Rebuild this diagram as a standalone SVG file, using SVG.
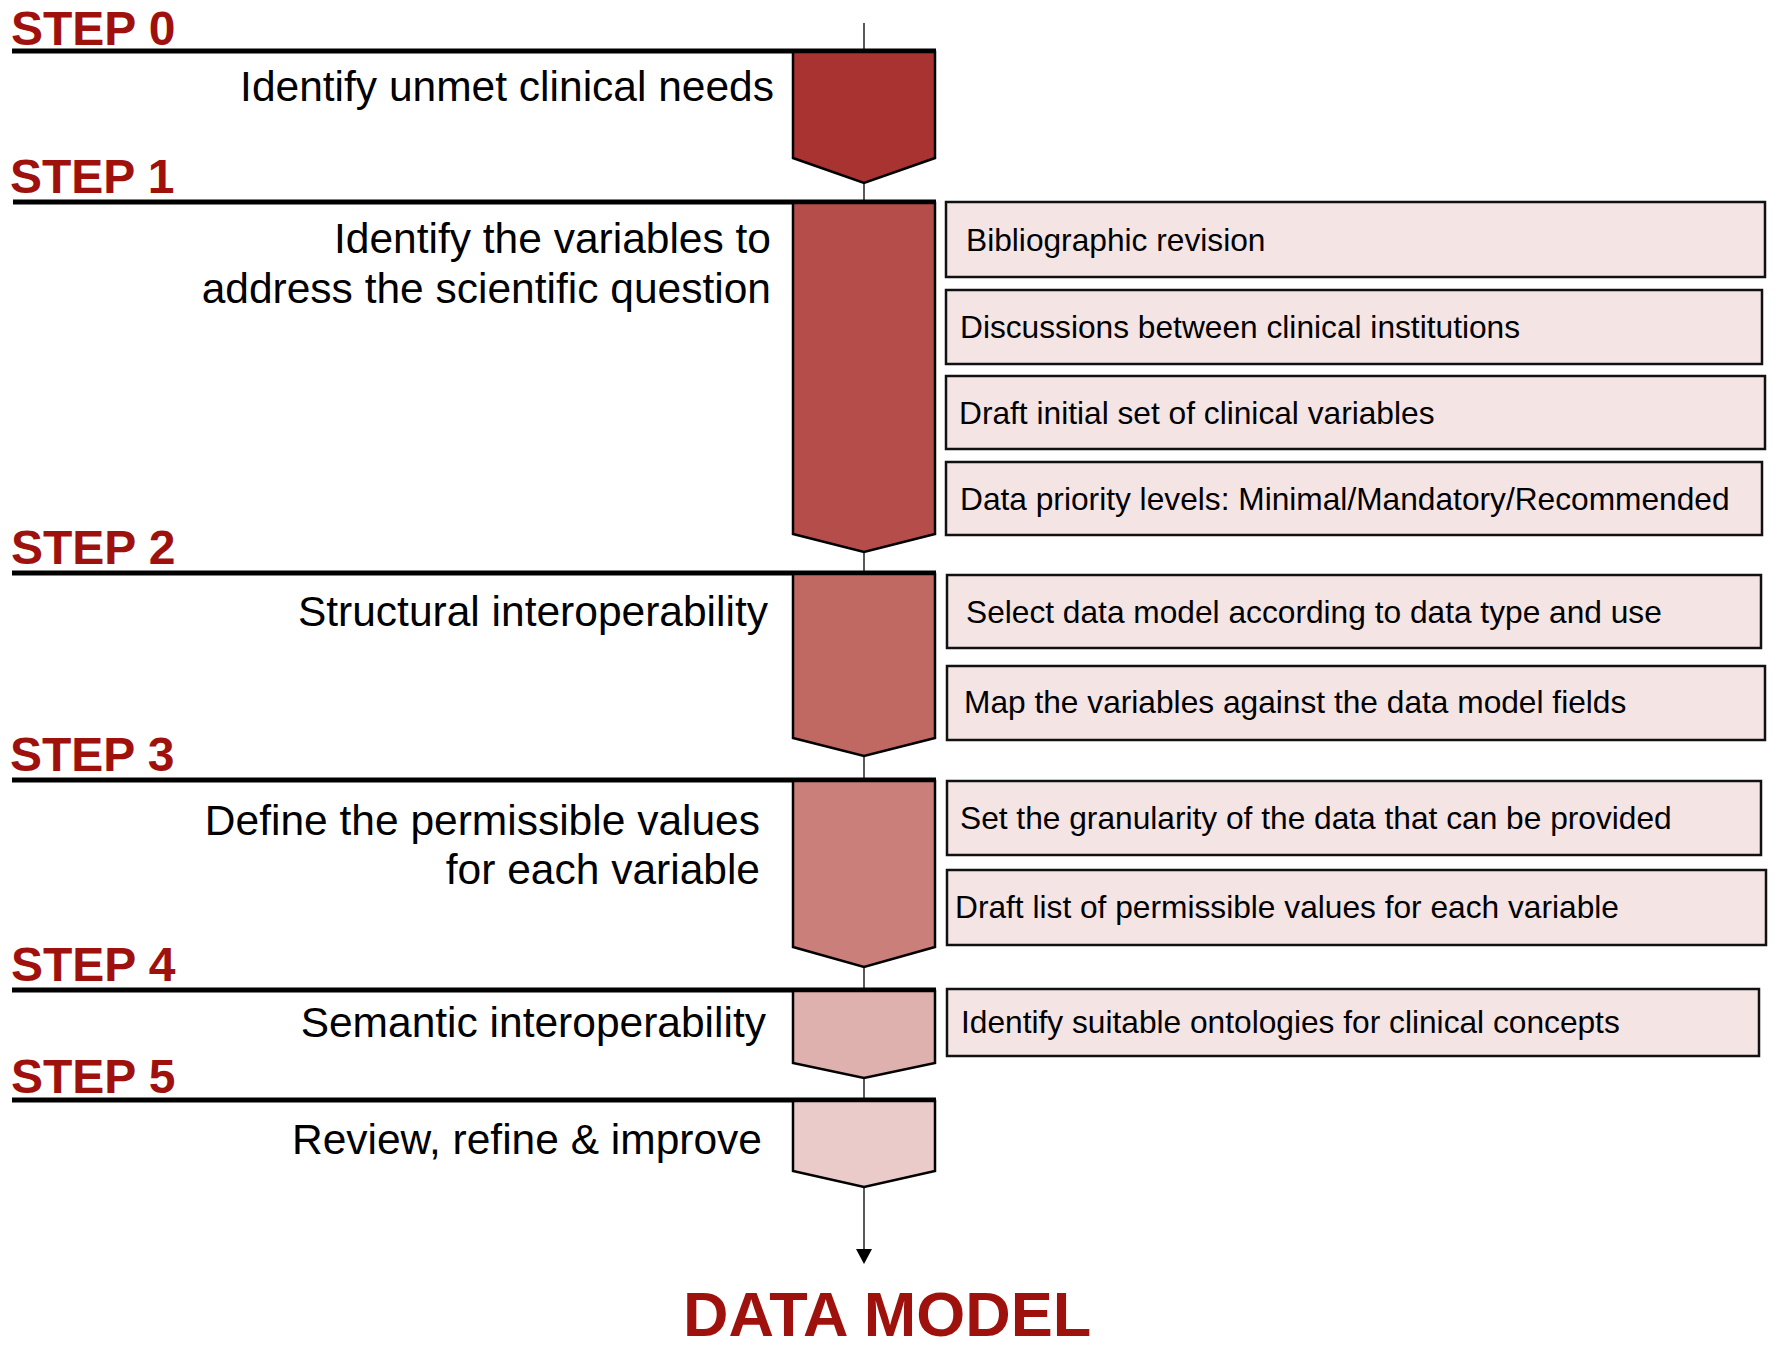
<svg xmlns="http://www.w3.org/2000/svg" width="1777" height="1348" viewBox="0 0 1777 1348">
<defs>
<style>
.step{font-family:"Liberation Sans",Arial,sans-serif;font-weight:bold;font-size:48px;fill:#9e110c}
.main{font-family:"Liberation Sans",Arial,sans-serif;font-size:42.5px;fill:#000;text-anchor:end}
.box{fill:#f4e4e4;stroke:#111;stroke-width:2.5}
.bt{font-family:"Liberation Sans",Arial,sans-serif;font-size:31.7px;fill:#000}
.chev{stroke:#000;stroke-width:2.5;stroke-linejoin:miter}
.sline{stroke:#000;stroke-width:5}
.conn{stroke:#000;stroke-width:1.3;fill:none}
</style>
</defs>
<rect width="1777" height="1348" fill="#fff"/>

<g id="connectors">
<line class="conn" x1="864" y1="23" x2="864" y2="51"/>
<line class="conn" x1="864" y1="183" x2="864" y2="202"/>
<line class="conn" x1="864" y1="552" x2="864" y2="573"/>
<line class="conn" x1="864" y1="756" x2="864" y2="780"/>
<line class="conn" x1="864" y1="967" x2="864" y2="990"/>
<line class="conn" x1="864" y1="1078" x2="864" y2="1100"/>
<path class="conn" d="M864,1187 L864,1252"/>
<path d="M856,1249 L872,1249 L864,1264 Z" fill="#000"/>
</g>

<g id="step0">
<text class="step" x="11" y="45">STEP 0</text>
<line class="sline" x1="12" y1="51" x2="936" y2="51"/>
<path class="chev" fill="#a93331" d="M793,52 L935,52 L935,158 L864,183 L793,158 Z"/>
<text class="main" x="774" y="101">Identify unmet clinical needs</text>
</g>

<g id="step1">
<text class="step" x="10" y="193">STEP 1</text>
<line class="sline" x1="13" y1="202" x2="936" y2="202"/>
<path class="chev" fill="#b54e4b" d="M793,203 L935,203 L935,534 L864,552 L793,534 Z"/>
<text class="main" x="771" y="253">Identify the variables to</text>
<text class="main" x="771" y="303">address the scientific question</text>
</g>

<g id="step1-items">
<g id="item-biblio"><rect class="box" x="946" y="202" width="819" height="75"/><text class="bt" x="966" y="251">Bibliographic revision</text></g>
<g id="item-discussions"><rect class="box" x="946" y="290" width="816" height="74"/><text class="bt" x="960" y="338">Discussions between clinical institutions</text></g>
<g id="item-draft-initial"><rect class="box" x="946" y="376" width="819" height="73"/><text class="bt" x="959" y="424">Draft initial set of clinical variables</text></g>
<g id="item-priority"><rect class="box" x="946" y="462" width="816" height="73"/><text class="bt" x="960" y="510">Data priority levels: Minimal/Mandatory/Recommended</text></g>
</g>

<g id="step2">
<text class="step" x="11" y="564">STEP 2</text>
<line class="sline" x1="12" y1="573" x2="936" y2="573"/>
<path class="chev" fill="#c06862" d="M793,574 L935,574 L935,738 L864,756 L793,738 Z"/>
<text class="main" x="768" y="626">Structural interoperability</text>
</g>

<g id="step2-items">
<g id="item-select"><rect class="box" x="947" y="575" width="814" height="73"/><text class="bt" x="966" y="623">Select data model according to data type and use</text></g>
<g id="item-map"><rect class="box" x="947" y="666" width="818" height="74"/><text class="bt" x="964" y="713">Map the variables against the data model fields</text></g>
</g>

<g id="step3">
<text class="step" x="10" y="771">STEP 3</text>
<line class="sline" x1="12" y1="780" x2="936" y2="780"/>
<path class="chev" fill="#cb7f7a" d="M793,781 L935,781 L935,947 L864,967 L793,947 Z"/>
<text class="main" x="760" y="835">Define the permissible values</text>
<text class="main" x="760" y="884">for each variable</text>
</g>

<g id="step3-items">
<g id="item-granularity"><rect class="box" x="947" y="781" width="814" height="74"/><text class="bt" x="960" y="829">Set the granularity of the data that can be provided</text></g>
<g id="item-draft-list"><rect class="box" x="947" y="870" width="819" height="75"/><text class="bt" x="955" y="918">Draft list of permissible values for each variable</text></g>
</g>

<g id="step4">
<text class="step" x="11" y="981">STEP 4</text>
<line class="sline" x1="12" y1="990" x2="936" y2="990"/>
<path class="chev" fill="#deb0ae" d="M793,991 L935,991 L935,1063 L864,1078 L793,1063 Z"/>
<text class="main" x="766" y="1037">Semantic interoperability</text>
</g>

<g id="step4-items">
<g id="item-ontologies"><rect class="box" x="947" y="989" width="812" height="67"/><text class="bt" x="961" y="1033">Identify suitable ontologies for clinical concepts</text></g>
</g>

<g id="step5">
<text class="step" x="11" y="1093">STEP 5</text>
<line class="sline" x1="12" y1="1100" x2="936" y2="1100"/>
<path class="chev" fill="#ebcbca" d="M793,1101 L935,1101 L935,1171 L864,1187 L793,1171 Z"/>
<text class="main" x="762" y="1154">Review, refine &amp; improve</text>
</g>

<g id="result">
<text class="step" x="683" y="1336" style="font-size:63px">DATA MODEL</text>
</g>
</svg>
